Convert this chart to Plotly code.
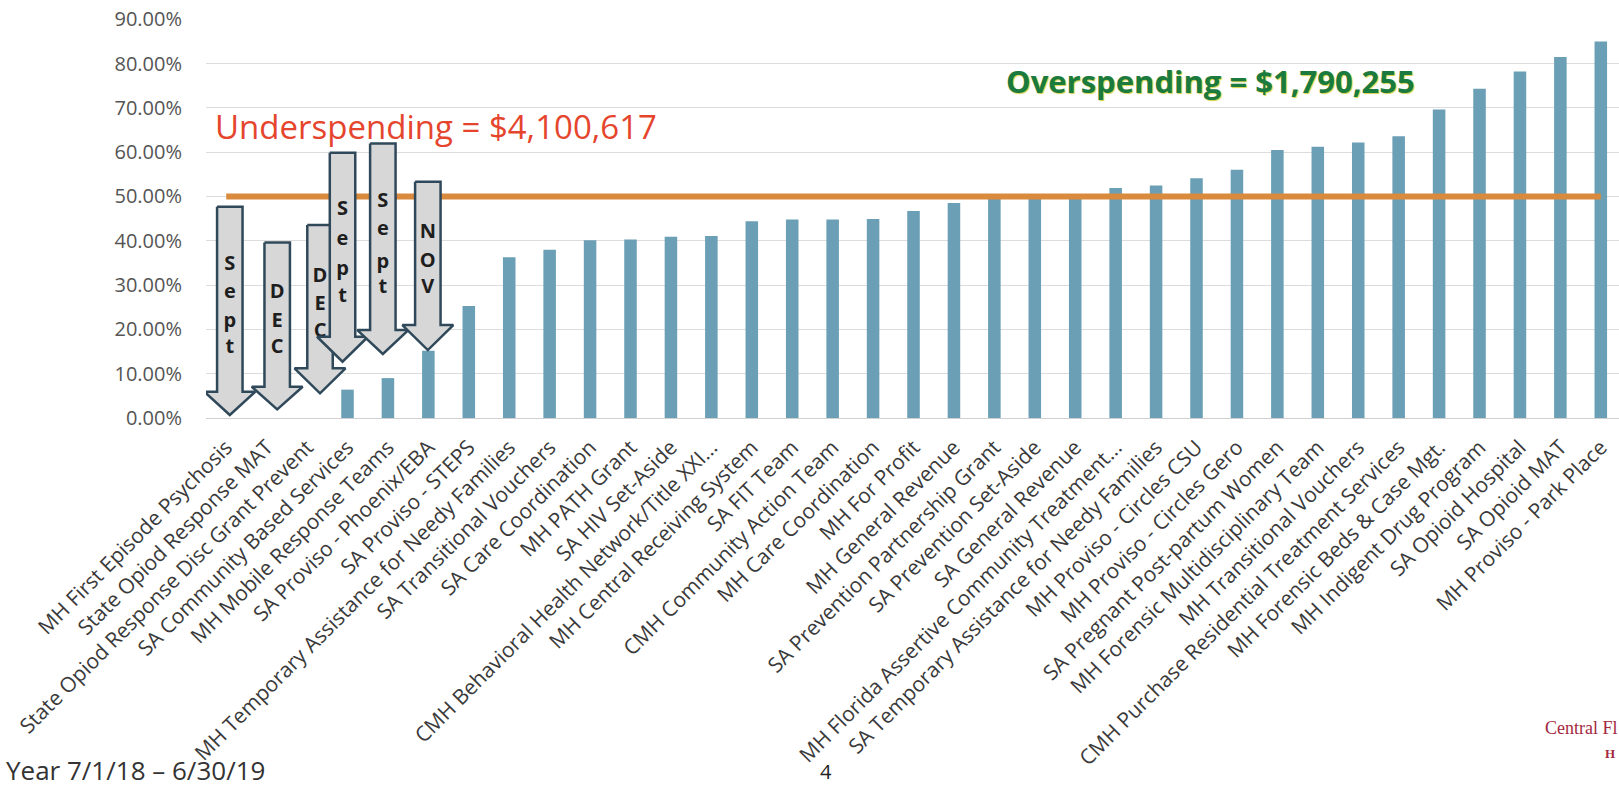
import plotly.graph_objects as go

# ---------------- data ----------------
categories = [
    "MH First Episode Psychosis",
    "State Opiod Response MAT",
    "State Opiod Response Disc Grant Prevent",
    "SA Community Based Services",
    "MH Mobile Response Teams",
    "SA Proviso - Phoenix/EBA",
    "SA Proviso - STEPS",
    "MH Temporary Assistance for Needy Families",
    "SA Transitional Vouchers",
    "SA Care Coordination",
    "MH PATH Grant",
    "SA HIV Set-Aside",
    "CMH Behavioral Health Network/Title XXI...",
    "MH Central Receiving System",
    "SA FIT Team",
    "CMH Community Action Team",
    "MH Care Coordination",
    "MH For Profit",
    "MH General Revenue",
    "SA Prevention Partnership Grant",
    "SA Prevention Set-Aside",
    "SA General Revenue",
    "MH Florida Assertive Community Treatment...",
    "SA Temporary Assistance for Needy Families",
    "MH Proviso - Circles CSU",
    "MH Proviso - Circles Gero",
    "SA Pregnant Post-partum Women",
    "MH Forensic Multidisciplinary Team",
    "MH Transitional Vouchers",
    "CMH Purchase Residential Treatment Services",
    "MH Forensic Beds & Case Mgt.",
    "MH Indigent Drug Program",
    "SA Opioid Hospital",
    "SA Opioid MAT",
    "MH Proviso - Park Place",
]

spent_pct = [
    0.0, 0.0, 0.0, 6.4, 9.0, 15.2, 25.3, 36.3, 38.0, 40.1,
    40.3, 40.9, 41.1, 44.4, 44.8, 44.8, 44.9, 46.7, 48.5, 49.4,
    49.4, 49.5, 51.9, 52.5, 54.1, 56.0, 60.5, 61.2, 62.2, 63.6,
    69.6, 74.3, 78.2, 81.5, 85.0,
]

target_pct = 50.0

y_tick_values = [0, 10, 20, 30, 40, 50, 60, 70, 80, 90]
y_tick_labels = ["0.00%", "10.00%", "20.00%", "30.00%", "40.00%",
                 "50.00%", "60.00%", "70.00%", "80.00%", "90.00%"]

underspending_label = "Underspending = $4,100,617"
overspending_label = "Overspending = $1,790,255"
period_label = "Year 7/1/18 \u2013 6/30/19"
page_label = "4"
logo_label = "Central Fl"
logo_sub_label = "H"

# month call-out arrows (category position, top, head base, tip, letters)
arrow_specs = [
    dict(c=0.089, top=47.66, hb=5.93, tip=0.68, letters="Sept", ly=[34.51, 28.13, 21.72, 15.72]),
    dict(c=1.261, top=39.63, hb=7.06, tip=1.96, letters="DEC", ly=[28.13, 21.72, 15.72]),
    dict(c=2.320, top=43.54, hb=11.21, tip=5.57, letters="DEC", ly=[31.87, 25.49, 19.47]),
    dict(c=2.877, top=59.85, hb=18.34, tip=12.70, letters="Sept", ly=[46.92, 40.15, 33.38, 27.36]),
    dict(c=3.874, top=61.97, hb=19.85, tip=14.44, letters="Sept", ly=[48.79, 42.41, 34.90, 29.26]),
    dict(c=4.987, top=53.30, hb=20.98, tip=15.34, letters="NOV", ly=[41.66, 35.26, 29.26]),
]

# ---------------- layout constants ----------------
W, H = 1619, 788
L, R, T, B = 206, 0, 19, 370
PW, PH = W - L - R, H - T - B
XR = [-0.5, 34.45]
YR = [0, 90.05]


def pxx(px):
    return (px - L) / PW


def pxy(py):
    return (T + PH - py) / PH


fig = go.Figure()

fig.add_trace(go.Bar(
    x=categories, y=spent_pct,
    marker=dict(color="#6A9FB6", line=dict(width=0)),
    width=0.31, hoverinfo="skip", showlegend=False,
))

fig.add_trace(go.Scatter(
    x=categories, y=[target_pct] * len(categories),
    mode="lines", line=dict(color="#D98A3C", width=6),
    hoverinfo="skip", showlegend=False,
))

shaft_hw = 0.315
head_hw = 0.63
for a in arrow_specs:
    c = a["c"]
    xs = [c - shaft_hw, c + shaft_hw, c + shaft_hw, c + head_hw, c, c - head_hw, c - shaft_hw, c - shaft_hw]
    ys = [a["top"], a["top"], a["hb"], a["hb"], a["tip"], a["hb"], a["hb"], a["top"]]
    fig.add_trace(go.Scatter(
        x=xs, y=ys, xaxis="x2", yaxis="y", mode="lines", fill="toself",
        fillcolor="#D7D7D7", line=dict(color="#30495A", width=2.5),
        hoverinfo="skip", showlegend=False,
    ))
    fig.add_trace(go.Scatter(
        x=[c] * len(a["letters"]), y=a["ly"], xaxis="x2", yaxis="y",
        mode="text", text=list(a["letters"]), textposition="middle center",
        textfont=dict(family="Open Sans", size=20, color="#1E1E1E", weight="bold"),
        hoverinfo="skip", showlegend=False,
    ))

fig.update_layout(
    width=W, height=H,
    margin=dict(l=L, r=R, t=T, b=B, pad=0),
    paper_bgcolor="white", plot_bgcolor="white",
    hovermode=False,
    bargap=0.69,
    xaxis=dict(
        type="category", range=XR, tickangle=-45,
        tickfont=dict(family="Open Sans", size=21, color="#3A3A3A"),
        showgrid=False, zeroline=False, showline=False, ticks="",
        ticklabelstandoff=12, automargin=False,
    ),
    xaxis2=dict(overlaying="x", range=XR, visible=False, anchor="y"),
    yaxis=dict(
        range=YR, tickvals=y_tick_values, ticktext=y_tick_labels,
        tickfont=dict(family="Open Sans", size=20, color="#555555"),
        showgrid=True, gridcolor="#DCDCDC", gridwidth=1,
        zeroline=True, zerolinecolor="#D0D0D0", zerolinewidth=1,
        showline=False, ticks="", ticklabelstandoff=23, automargin=False,
    ),
    annotations=[
        dict(text=underspending_label, xref="paper", yref="paper",
             x=pxx(213), y=pxy(126), xanchor="left", yanchor="middle", showarrow=False,
             font=dict(family="Open Sans", size=33, color="#E5452D")),
        dict(text=overspending_label, xref="paper", yref="paper",
             x=pxx(1004), y=pxy(81), xanchor="left", yanchor="middle", showarrow=False,
             font=dict(family="Open Sans", size=31, color="#1B7A3E", weight="bold",
                       shadow="1px 1px 1px #D6D24A")),
        dict(text=period_label, xref="paper", yref="paper",
             x=pxx(4), y=pxy(790), xanchor="left", yanchor="bottom", showarrow=False,
             font=dict(family="Open Sans", size=26, color="#333333")),
        dict(text=page_label, xref="paper", yref="paper",
             x=pxx(826), y=pxy(787), xanchor="center", yanchor="bottom", showarrow=False,
             font=dict(family="Open Sans", size=20, color="#222222")),
        dict(text=logo_label, xref="paper", yref="paper",
             x=pxx(1543), y=pxy(728), xanchor="left", yanchor="middle", showarrow=False,
             font=dict(family="Liberation Serif", size=18, color="#A3283D")),
        dict(text=logo_sub_label, xref="paper", yref="paper",
             x=pxx(1603), y=pxy(753), xanchor="left", yanchor="middle", showarrow=False,
             font=dict(family="Liberation Serif", size=13, color="#A3283D", weight="bold")),
    ],
)

fig.write_html("out.html", config={"displayModeBar": False},
               post_script="document.body.style.margin='0px';")
